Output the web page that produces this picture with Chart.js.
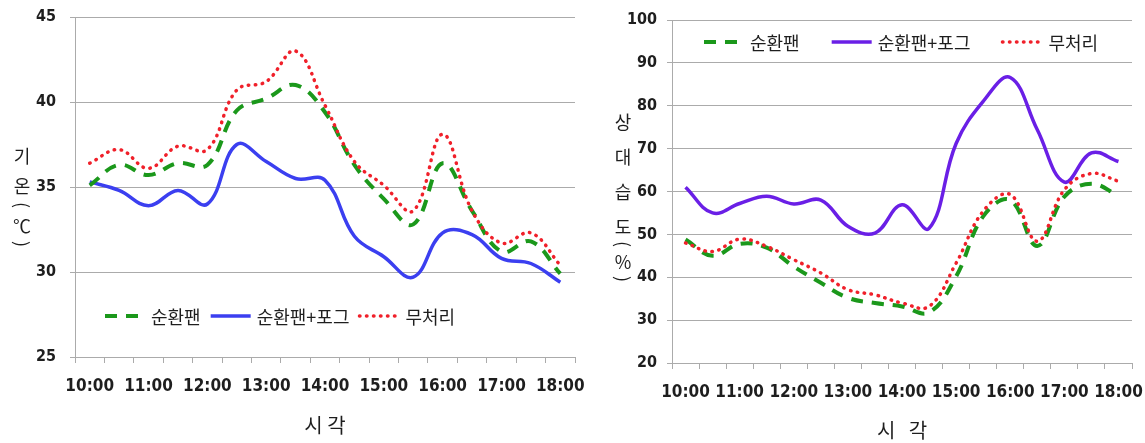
<!DOCTYPE html>
<html>
<head>
<meta charset="utf-8">
<script src="https://cdn.jsdelivr.net/npm/chart.js@4"></script>
<style>
  body { margin: 0; background: #fff; }
  #wrap { position: relative; width: 1145px; height: 443px; overflow: hidden; }
  #wrap canvas { position: absolute; top: 0; }
</style>
</head>
<body>
<div id="wrap">
  <canvas id="graficoUmid" width="565" height="443" style="left:580px"></canvas>
  <canvas id="graficoTemp" width="600" height="443" style="left:0"></canvas>
</div>
<script>
// categorias: cada 30 min, rótulo só nas horas cheias
const horarios = [
  '10:00', '10:30', '11:00', '11:30', '12:00', '12:30', '13:00', '13:30', '14:00',
  '14:30', '15:00', '15:30', '16:00', '16:30', '17:00', '17:30', '18:00'
];

const nomes = ['순환팬', '순환팬+포그', '무처리'];

// 기온 (℃)
const tempVentilador = [35.1, 36.3, 35.7, 36.4, 36.3, 39.5, 40.2, 41.0, 39.4, 36.3, 34.3, 32.8, 36.4, 33.6, 31.2, 31.8, 29.9];
const tempNevoa = [35.3, 34.8, 33.9, 34.8, 34.0, 37.5, 36.5, 35.5, 35.4, 32.1, 30.9, 29.7, 32.3, 32.2, 30.8, 30.5, 29.4];
const tempSemTrat = [36.4, 37.2, 36.1, 37.4, 37.2, 40.7, 41.2, 43.0, 39.8, 36.5, 35.1, 33.6, 38.1, 33.6, 31.7, 32.3, 30.4];

// 상대습도 (%)
const umidVentilador = [48.8, 45.0, 47.8, 46.9, 42.5, 38.7, 35.2, 34.0, 33.2, 31.8, 40.2, 54.2, 58.0, 47.3, 58.8, 61.8, 59.0];
const umidNevoa = [61.0, 55.0, 57.2, 58.9, 57.1, 58.0, 51.9, 50.3, 56.9, 51.4, 71.2, 81.0, 86.6, 74.4, 62.2, 69.0, 67.0];
const umidSemTrat = [48.0, 46.0, 48.9, 47.2, 44.1, 41.0, 37.1, 35.9, 34.0, 33.2, 43.3, 55.4, 59.3, 48.4, 60.4, 64.2, 62.4];

const fonteNum = "'Liberation Sans Narrow', 'DejaVu Sans Condensed', 'Liberation Sans', sans-serif";
const fonteKr = "'Noto Sans CJK KR', 'Noto Sans', sans-serif";
const corGrade = '#ababab';
const corTexto = '#1e1e1e';

// legenda desenhada dentro da área do gráfico
const legendaInterna = {
    id: 'legendaInterna',
    afterDraw(chart, args, opts) {
        const ctx = chart.ctx;
        ctx.save();
        ctx.font = opts.font;
        ctx.textBaseline = 'middle';
        let x = opts.x;
        chart.data.datasets.forEach(ds => {
            ctx.strokeStyle = ds.borderColor;
            ctx.lineWidth = ds.borderWidth;
            ctx.setLineDash(ds.borderDash || []);
            ctx.lineCap = ds.borderCapStyle || 'butt';
            ctx.beginPath();
            ctx.moveTo(x, opts.y);
            ctx.lineTo(x + opts.amostra, opts.y);
            ctx.stroke();
            x += opts.amostra + 6;
            ctx.fillStyle = corTexto;
            ctx.fillText(ds.label, x, opts.y + 1);
            x += ctx.measureText(ds.label).width + opts.espaco;
        });
        ctx.restore();
    }
};

// título vertical do eixo Y, letra por letra (parênteses girados)
const tituloVertical = {
    id: 'tituloVertical',
    afterDraw(chart, args, opts) {
        const ctx = chart.ctx;
        ctx.save();
        ctx.font = opts.font;
        ctx.fillStyle = corTexto;
        ctx.textAlign = 'center';
        ctx.textBaseline = 'middle';
        opts.letras.forEach(([c, y, girar]) => {
            ctx.save();
            ctx.translate(opts.x, y);
            if (girar) ctx.rotate(Math.PI / 2);
            ctx.fillText(c, 0, 0);
            ctx.restore();
        });
        ctx.restore();
    }
};

function montarSeries(valores, corNevoa) {
    return [{
        label: nomes[0],
        data: valores[0],
        borderColor: '#1b981b',
        borderWidth: 4,
        borderDash: [12, 9],
        order: 1
    }, {
        label: nomes[1],
        data: valores[1],
        borderColor: corNevoa,
        borderWidth: 3.5,
        order: 2
    }, {
        label: nomes[2],
        data: valores[2],
        borderColor: '#f0202a',
        borderWidth: 3.5,
        borderDash: [0.5, 6.5],
        borderCapStyle: 'round',
        order: 0
    }];
}

function opcoes(cfg) {
    return {
        responsive: false,
        animation: false,
        layout: { padding: { top: cfg.topo, right: cfg.direita, left: 0, bottom: 0 } },
        elements: {
            point: { radius: 0 },
            line: { tension: 0.4, fill: false }
        },
        plugins: {
            legend: { display: false },
            tooltip: { enabled: false },
            legendaInterna: cfg.legenda,
            tituloVertical: cfg.tituloY
        },
        scales: {
            x: {
                offset: true,
                grid: { offset: true, drawOnChartArea: false, drawTicks: true, tickLength: 6, color: corGrade },
                border: { color: corGrade },
                ticks: {
                    autoSkip: false,
                    maxRotation: 0,
                    padding: 13,
                    color: corTexto,
                    font: { family: fonteNum, size: 17, weight: 'bold' },
                    callback: function (v, i) { return i % 2 === 0 ? horarios[i] : ''; }
                },
                title: {
                    display: true,
                    text: cfg.tituloX,
                    color: corTexto,
                    font: { family: fonteKr, size: 20 },
                    padding: { top: 0, bottom: cfg.tituloXbaixo }
                },
                afterFit: s => {
                    s.height = cfg.alturaX;
                    s.paddingLeft = 0;
                    s.paddingRight = 0;
                }
            },
            y: {
                min: cfg.min,
                max: cfg.max,
                grid: { color: corGrade, tickLength: 5 },
                border: { color: corGrade },
                ticks: {
                    stepSize: cfg.passo,
                    padding: cfg.padY,
                    color: corTexto,
                    font: { family: fonteNum, size: 16, weight: 'bold' }
                },
                afterFit: s => {
                    s.width = cfg.larguraY;
                    s.paddingTop = 0;
                    s.paddingBottom = 0;
                }
            }
        }
    };
}

// gráfico da esquerda: 기온
new Chart(document.getElementById('graficoTemp'), {
    type: 'line',
    data: {
        labels: horarios,
        datasets: montarSeries([tempVentilador, tempNevoa, tempSemTrat], '#3b3ff0')
    },
    options: opcoes({
        topo: 17, direita: 25, min: 25, max: 45, passo: 5,
        larguraY: 75, alturaX: 86, padY: 14,
        tituloX: '시 각', tituloXbaixo: 6,
        legenda: { x: 105, y: 316, amostra: 40, espaco: 10, font: '18px ' + fonteKr },
        tituloY: {
            x: 22, font: '18px ' + fonteKr,
            letras: [['기', 156], ['온', 186], ['(', 205, true], ['℃', 226], [')', 244, true]]
        }
    }),
    plugins: [legendaInterna, tituloVertical]
});

// gráfico da direita: 상대습도
new Chart(document.getElementById('graficoUmid'), {
    type: 'line',
    data: {
        labels: horarios,
        datasets: montarSeries([umidVentilador, umidNevoa, umidSemTrat], '#6a1fe6')
    },
    options: opcoes({
        topo: 20, direita: 13, min: 20, max: 100, passo: 10,
        larguraY: 92, alturaX: 80, padY: 10,
        tituloX: '시   각', tituloXbaixo: 1,
        legenda: { x: 124, y: 42, amostra: 40, espaco: 32, font: '18px ' + fonteKr },
        tituloY: {
            x: 43, font: '18px ' + fonteKr,
            letras: [['상', 122], ['대', 157], ['습', 192], ['도', 227], ['(', 244, true], ['%', 262], [')', 279, true]]
        }
    }),
    plugins: [legendaInterna, tituloVertical]
});
</script>
</body>
</html>
